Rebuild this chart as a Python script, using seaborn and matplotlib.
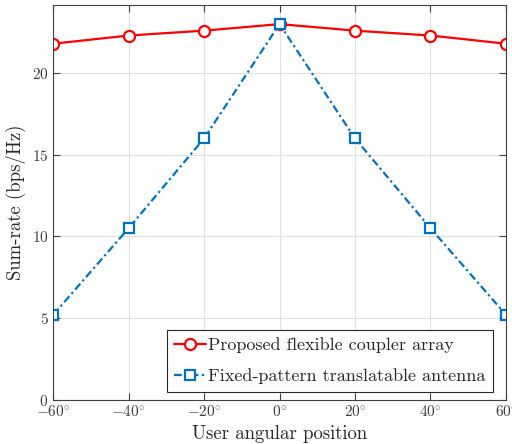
import numpy as np
import pandas as pd
import matplotlib
matplotlib.use("Agg")
import matplotlib.pyplot as plt
import seaborn as sns

# data
angles = [-60, -40, -20, 0, 20, 40, 60]
proposed = [21.8, 22.3, 22.6, 23.0, 22.6, 22.3, 21.8]
fixed = [5.2, 10.5, 16.0, 23.0, 16.0, 10.5, 5.2]
yticks = [0, 5, 10, 15, 20]

sns.set_style("ticks")
plt.rcParams['font.family'] = ['cmr10', 'DejaVu Serif']
plt.rcParams['mathtext.fontset'] = 'cm'
plt.rcParams['axes.unicode_minus'] = False

df = pd.DataFrame({'angle': angles, 'proposed': proposed, 'fixed': fixed})

fig = plt.figure(figsize=(5.12, 4.44), dpi=100)
ax = fig.add_axes([0.104, 0.1, 0.884, 0.888])

sns.lineplot(data=df, x='angle', y='proposed', ax=ax, color='#ff0000', lw=1.6,
             marker='o', markersize=8, markerfacecolor='white', markeredgecolor='#ff0000',
             markeredgewidth=1.6, label='Proposed flexible coupler array')
sns.lineplot(data=df, x='angle', y='fixed', ax=ax, color='#0072bd', lw=1.6,
             dashes=(3.5, 1.5, 1, 1.5), marker='s', markersize=6.5, markerfacecolor='white',
             markeredgecolor='#0072bd', markeredgewidth=1.6,
             label='Fixed-pattern translatable antenna')

ax.set_xlim(-60, 60)
ax.set_ylim(0, 24.15)
ax.set_xticks(angles)
ax.set_xticklabels([r'$%d^{\circ}$' % a if a >= 0 else r'$-%d^{\circ}$' % -a for a in angles])
ax.set_yticks(yticks)
ax.set_yticklabels([r'$%d$' % v for v in yticks])
ax.grid(True, color='#e0e0e0', lw=0.8)
ax.tick_params(direction='in', length=5, width=0.8, labelsize=11, colors='#404040',
               top=True, right=True)
for s in ax.spines.values():
    s.set_color('#404040')
    s.set_linewidth(0.8)
ax.set_xlabel('User angular position', fontsize=13.5, color='#262626')
ax.set_ylabel('Sum-rate (bps/Hz)', fontsize=13.5, color='#262626')

leg = ax.legend(loc='lower right', fontsize=13, frameon=True, fancybox=False,
                edgecolor='#262626', framealpha=1, handlelength=1.8,
                handletextpad=0.1, borderpad=0.4, labelspacing=0.85,
                borderaxespad=0, bbox_to_anchor=(0.971, 0.02))
leg.get_frame().set_linewidth(0.8)

fig.savefig('out.png', dpi=100)
